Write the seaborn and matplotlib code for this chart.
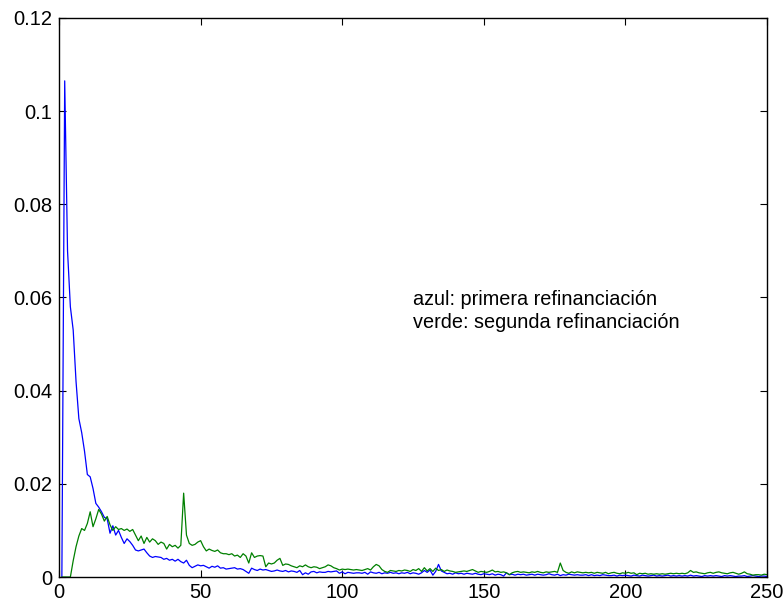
import numpy as np
import pandas as pd
import matplotlib
matplotlib.use("Agg")
import matplotlib.pyplot as plt
import seaborn as sns
from matplotlib.ticker import FuncFormatter

# values, x = 1..250
azul = [
    0, 0.1065, 0.070, 0.058, 0.053, 0.042, 0.034, 0.031, 0.027, 0.022,
    0.0215, 0.019, 0.0158, 0.0150, 0.0140, 0.0128, 0.0125, 0.0094, 0.0110, 0.0090,
    0.0100, 0.0085, 0.0072, 0.0082, 0.0076, 0.0068, 0.0058, 0.0056, 0.0058, 0.0060,
    0.0052, 0.0045, 0.0042, 0.0044, 0.0043, 0.0042, 0.0038, 0.0040, 0.0036, 0.0038,
    0.0034, 0.0038, 0.0033, 0.0030, 0.0036, 0.0025, 0.0020, 0.0023, 0.0026, 0.0024,
    0.0025, 0.0022, 0.0019, 0.0023, 0.0021, 0.0024, 0.0019, 0.0020, 0.0017, 0.0018,
    0.0019, 0.0020, 0.0017, 0.0018, 0.0016, 0.0012, 0.0008, 0.0019, 0.0016, 0.0014,
    0.0017, 0.0015, 0.0016, 0.0014, 0.0012, 0.0013, 0.0015, 0.0013, 0.0012, 0.0014,
    0.0011, 0.0013, 0.0012, 0.0010, 0.0014, 0.0005, 0.0009, 0.0006, 0.0011, 0.0012,
    0.0009, 0.0011, 0.0010, 0.0010, 0.0012, 0.0011, 0.0012, 0.0013, 0.0008, 0.0011,
    0.0007, 0.0010, 0.0009, 0.0008, 0.0009, 0.0009, 0.0008, 0.0010, 0.0006, 0.0011,
    0.0009, 0.0008, 0.0010, 0.0007, 0.0009, 0.0008, 0.0010, 0.0008, 0.0009, 0.0007,
    0.0009, 0.0008, 0.0010, 0.0007, 0.0009, 0.0008, 0.0006, 0.0009, 0.0014, 0.0010,
    0.0015, 0.0004, 0.0012, 0.0027, 0.0013, 0.0010, 0.0007, 0.0008, 0.0006, 0.0009,
    0.0007, 0.0008, 0.0006, 0.0008, 0.0007, 0.0006, 0.0008, 0.0006, 0.0005, 0.0007,
    0.0006, 0.0005, 0.0007, 0.0004, 0.0006, 0.0005, 0.0002, 0.0009, 0.0005, 0.0006,
    0.0004, 0.0006, 0.0005, 0.0006, 0.0004, 0.0005, 0.0006, 0.0004, 0.0006, 0.0005,
    0.0004, 0.0005, 0.0007, 0.0005, 0.0004, 0.0006, 0.0003, 0.0005, 0.0004, 0.0006,
    0.0005, 0.0004, 0.0005, 0.0004, 0.0004, 0.0005, 0.0003, 0.0005, 0.0003, 0.0004,
    0.0003, 0.0005, 0.0004, 0.0003, 0.0003, 0.0004, 0.0002, 0.0004, 0.0003, 0.0004,
    0.0003, 0.0002, 0.0004, 0.0003, 0.0002, 0.0004, 0.0003, 0.0002, 0.0003, 0.0004,
    0.0002, 0.0003, 0.0002, 0.0003, 0.0004, 0.0002, 0.0003, 0.0002, 0.0003, 0.0002,
    0.0003, 0.0002, 0.0004, 0.0002, 0.0003, 0.0002, 0.0001, 0.0003, 0.0002, 0.0003,
    0.0002, 0.0003, 0.0002, 0.0001, 0.0003, 0.0002, 0.0003, 0.0002, 0.0001, 0.0002,
    0.0002, 0.0003, 0.0001, 0.0002, 0.0003, 0.0002, 0.0001, 0.0002, 0.0002, 0.0001,
]

verde = [
    0, 0, 0, 0, 0.0035, 0.0065, 0.0088, 0.0104, 0.0100, 0.0115,
    0.0140, 0.0108, 0.0125, 0.0145, 0.0135, 0.0120, 0.0130, 0.0112, 0.0100, 0.0108,
    0.0102, 0.0104, 0.0100, 0.0103, 0.0098, 0.0102, 0.0090, 0.0078, 0.0088, 0.0072,
    0.0085, 0.0075, 0.0082, 0.0078, 0.0070, 0.0075, 0.0072, 0.0060, 0.0070, 0.0065,
    0.0068, 0.0062, 0.0068, 0.0180, 0.0090, 0.0072, 0.0068, 0.0070, 0.0075, 0.0078,
    0.0065, 0.0056, 0.0060, 0.0057, 0.0055, 0.0058, 0.0052, 0.0050, 0.0050, 0.0048,
    0.0050, 0.0045, 0.0047, 0.0042, 0.0050, 0.0045, 0.0030, 0.0052, 0.0042, 0.0045,
    0.0046, 0.0045, 0.0022, 0.0030, 0.0028, 0.0030, 0.0036, 0.0040, 0.0025, 0.0028,
    0.0027, 0.0024, 0.0022, 0.0020, 0.0024, 0.0022, 0.0026, 0.0022, 0.0020, 0.0022,
    0.0021, 0.0018, 0.0020, 0.0022, 0.0026, 0.0024, 0.0020, 0.0018, 0.0015, 0.0017,
    0.0016, 0.0017, 0.0016, 0.0015, 0.0016, 0.0015, 0.0014, 0.0016, 0.0018, 0.0015,
    0.0022, 0.0027, 0.0024, 0.0016, 0.0012, 0.0010, 0.0014, 0.0013, 0.0012, 0.0014,
    0.0013, 0.0015, 0.0014, 0.0012, 0.0016, 0.0014, 0.0018, 0.0012, 0.0020, 0.0013,
    0.0018, 0.0012, 0.0019, 0.0014, 0.0016, 0.0012, 0.0015, 0.0013, 0.0012, 0.0010,
    0.0011, 0.0012, 0.0013, 0.0012, 0.0014, 0.0016, 0.0013, 0.0010, 0.0012, 0.0011,
    0.0010, 0.0012, 0.0015, 0.0011, 0.0012, 0.0010, 0.0011, 0.0009, 0.0005, 0.0009,
    0.0011, 0.0012, 0.0010, 0.0011, 0.0010, 0.0009, 0.0011, 0.0010, 0.0012, 0.0010,
    0.0009, 0.0011, 0.0010, 0.0011, 0.0012, 0.0010, 0.0030, 0.0014, 0.0010, 0.0008,
    0.0011, 0.0009, 0.0011, 0.0010, 0.0009, 0.0010, 0.0009, 0.0010, 0.0008, 0.0010,
    0.0009, 0.0008, 0.0010, 0.0007, 0.0009, 0.0010, 0.0008, 0.0007, 0.0009, 0.0008,
    0.0010, 0.0008, 0.0009, 0.0005, 0.0008, 0.0007, 0.0008, 0.0006, 0.0007, 0.0006,
    0.0007, 0.0006, 0.0007, 0.0006, 0.0007, 0.0008, 0.0007, 0.0008, 0.0007, 0.0008,
    0.0007, 0.0009, 0.0014, 0.0010, 0.0011, 0.0009, 0.0008, 0.0007, 0.0009, 0.0010,
    0.0008, 0.0010, 0.0011, 0.0009, 0.0008, 0.0007, 0.0009, 0.0010, 0.0008, 0.0006,
    0.0008, 0.0011, 0.0007, 0.0006, 0.0004, 0.0005, 0.0005, 0.0004, 0.0006, 0.0005,
]

dias = list(range(1, 251))
x_ticks = [0, 50, 100, 150, 200, 250]
y_ticks = [0, 0.02, 0.04, 0.06, 0.08, 0.1, 0.12]

df = pd.DataFrame({
    "x": dias * 2,
    "y": azul + verde,
    "serie": ["azul"] * 250 + ["verde"] * 250,
})

sns.set_style("ticks")
plt.rcParams["font.family"] = ["Liberation Sans", "DejaVu Sans"]
plt.rcParams["text.color"] = "black"

fig = plt.figure(figsize=(7.83, 6.03), dpi=100)
ax = fig.add_axes([0.0754, 0.0431, 0.9042, 0.9271])

sns.lineplot(data=df, x="x", y="y", hue="serie",
             palette={"azul": "#0000ff", "verde": "#008000"},
             linewidth=0.9, legend=False, ax=ax, estimator=None)

ax.set_xlim(0, 250)
ax.set_ylim(0, 0.12)
ax.set_xticks(x_ticks)
ax.set_yticks(y_ticks)
ax.yaxis.set_major_formatter(FuncFormatter(lambda v, p: "%g" % v))
ax.set_xlabel("")
ax.set_ylabel("")
ax.tick_params(direction="in", length=5, width=0.8, labelsize=14.5,
               top=True, right=True, colors="black")
ax.tick_params(axis="x", pad=4)
ax.tick_params(axis="y", pad=5)
for s in ax.spines.values():
    s.set_linewidth(1.0)
    s.set_color("black")

ax.text(125, 0.0584, "azul: primera refinanciación", fontsize=14.3, color="black")
ax.text(125, 0.0535, "verde: segunda refinanciación", fontsize=14.3, color="black")

fig.savefig("out.png", dpi=100)
